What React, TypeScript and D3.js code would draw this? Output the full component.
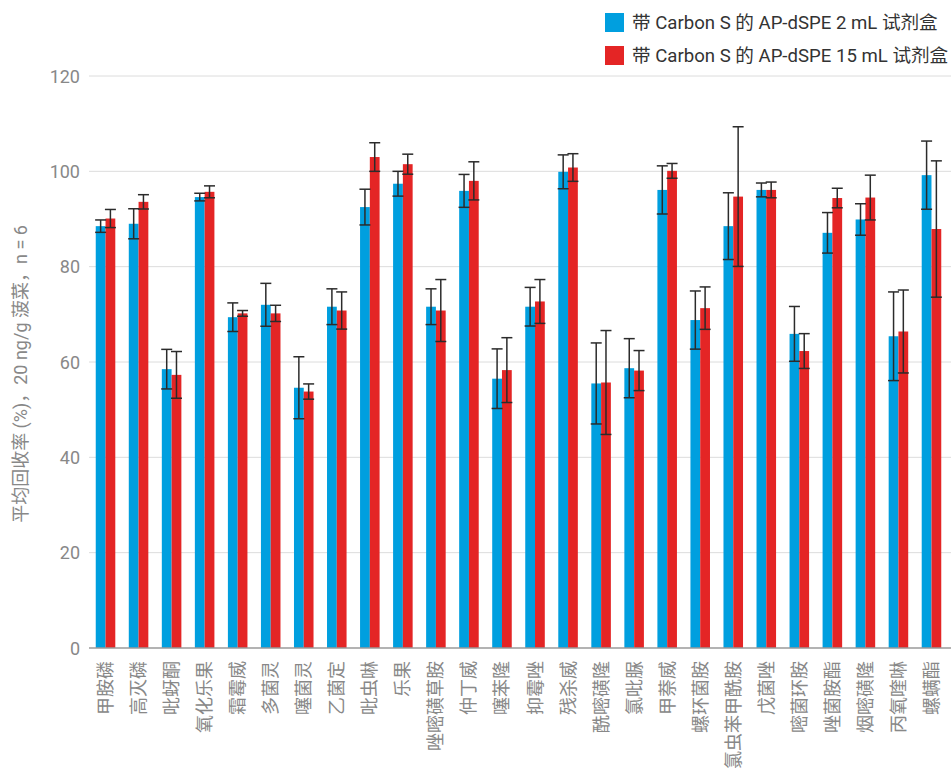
import React, { useEffect, useRef } from 'react';
import * as d3 from 'd3';

const categories = [
  '甲胺磷', '高灭磷', '吡蚜酮', '氧化乐果', '霜霉威', '多菌灵', '噻菌灵', '乙菌定',
  '吡虫啉', '乐果', '唑嘧磺草胺', '仲丁威', '噻苯隆', '抑霉唑', '残杀威', '酰嘧磺隆',
  '氯吡脲', '甲萘威', '螺环菌胺', '氯虫苯甲酰胺', '戊菌唑', '嘧菌环胺', '唑菌胺酯',
  '烟嘧磺隆', '丙氧喹啉', '螺螨酯',
];

const series2mL = [
  88.5, 89.0, 58.5, 94.6, 69.4, 72.0, 54.6, 71.6, 92.5, 97.4, 71.6, 95.9, 56.5,
  71.6, 99.9, 55.5, 58.7, 96.1, 68.8, 88.5, 96.1, 65.9, 87.1, 89.9, 65.4, 99.2,
];
const err2mL = [
  1.3, 3.15, 4.15, 0.8, 3.0, 4.5, 6.5, 3.75, 3.75, 2.6, 3.75, 3.45, 6.25,
  4.05, 3.55, 8.5, 6.2, 5.05, 6.1, 7.0, 1.45, 5.75, 4.25, 3.3, 9.3, 7.15,
];
const series15mL = [
  90.1, 93.6, 57.3, 95.7, 70.2, 70.2, 53.8, 70.8, 103.0, 101.5, 70.8, 98.0, 58.3,
  72.7, 100.8, 55.7, 58.2, 100.1, 71.3, 94.7, 96.1, 62.3, 94.4, 94.5, 66.4, 87.9,
];
const err15mL = [
  1.9, 1.5, 4.9, 1.25, 0.6, 1.7, 1.6, 3.9, 3.0, 2.1, 6.5, 4.0, 6.8,
  4.6, 2.9, 10.9, 4.2, 1.55, 4.45, 14.65, 1.65, 3.65, 2.05, 4.7, 8.7, 14.3,
];

const seriesNames = ['带 Carbon S 的 AP-dSPE 2 mL 试剂盒', '带 Carbon S 的 AP-dSPE 15 mL 试剂盒'];
const seriesColors = ['#009fdf', '#e42525'];
const yTicks = [0, 20, 40, 60, 80, 100, 120];
const yTitle = '平均回收率 (%)，20 ng/g 菠菜，n = 6';

const FONT = "Roboto, 'Noto Sans CJK SC', sans-serif";

const App: React.FC = () => {
  const svgRef = useRef<SVGSVGElement>(null);

  useEffect(() => {
    if (!svgRef.current) return;
    const W = 951;
    const H = 768;
    const svg = d3.select(svgRef.current);
    svg.selectAll('*').remove();
    svg.attr('width', W).attr('height', H).style('font-family', FONT);

    const left = 89;
    const right = 948;

    // group band + sub-band for the two kits
    const x0 = d3.scaleBand().domain(categories).range([left, right]).padding(0);
    const x1 = d3.scaleBand().domain(['a', 'b']).range([0, x0.bandwidth()]).paddingInner(0).paddingOuter(0.69);
    const y = d3.scaleLinear().domain([0, 120]).range([648, 76]);

    // gridlines
    svg.append('g')
      .selectAll('line')
      .data(yTicks.filter(t => t > 0))
      .enter()
      .append('line')
      .attr('x1', left)
      .attr('x2', W)
      .attr('y1', d => y(d))
      .attr('y2', d => y(d))
      .attr('stroke', '#dcdcdc')
      .attr('stroke-width', 1);

    // y tick labels
    svg.append('g')
      .selectAll('text')
      .data(yTicks)
      .enter()
      .append('text')
      .attr('x', 80)
      .attr('y', d => y(d))
      .attr('text-anchor', 'end')
      .attr('dominant-baseline', 'central')
      .style('font-size', '18px')
      .style('fill', '#888')
      .text(d => d);

    // y title
    svg.append('text')
      .attr('transform', `translate(20, 374) rotate(-90)`)
      .attr('text-anchor', 'middle')
      .attr('dominant-baseline', 'central')
      .style('font-size', '18px')
      .style('fill', '#888')
      .text(yTitle);

    const rows = categories.map((c, i) => ({
      cat: c,
      vals: [
        { key: 'a', v: series2mL[i], e: err2mL[i], color: seriesColors[0] },
        { key: 'b', v: series15mL[i], e: err15mL[i], color: seriesColors[1] },
      ],
    }));

    const groups = svg.append('g')
      .selectAll('g')
      .data(rows)
      .enter()
      .append('g')
      .attr('transform', d => `translate(${x0(d.cat)},0)`);

    groups.selectAll('rect')
      .data(d => d.vals)
      .enter()
      .append('rect')
      .attr('x', d => x1(d.key) || 0)
      .attr('width', x1.bandwidth())
      .attr('y', d => y(d.v))
      .attr('height', d => y(0) - y(d.v))
      .attr('fill', d => d.color);

    // error bars
    const capW = 5.5;
    const eb = groups.selectAll('g.err')
      .data(d => d.vals)
      .enter()
      .append('g')
      .classed('err', true)
      .attr('stroke', '#2b2b2b')
      .attr('stroke-width', 1.5);

    const cx = (d: any) => (x1(d.key) || 0) + x1.bandwidth() / 2;
    eb.append('line')
      .attr('x1', cx).attr('x2', cx)
      .attr('y1', d => y(d.v + d.e)).attr('y2', d => y(d.v - d.e));
    eb.append('line')
      .attr('x1', d => cx(d) - capW).attr('x2', d => cx(d) + capW)
      .attr('y1', d => y(d.v + d.e)).attr('y2', d => y(d.v + d.e));
    eb.append('line')
      .attr('x1', d => cx(d) - capW).attr('x2', d => cx(d) + capW)
      .attr('y1', d => y(d.v - d.e)).attr('y2', d => y(d.v - d.e));

    // x axis line
    svg.append('line')
      .attr('x1', left).attr('x2', W)
      .attr('y1', y(0)).attr('y2', y(0))
      .attr('stroke', '#9a9a9a')
      .attr('stroke-width', 1.5);

    // x labels
    svg.append('g')
      .selectAll('text')
      .data(categories)
      .enter()
      .append('text')
      .attr('transform', d => `translate(${(x0(d) || 0) + x0.bandwidth() / 2}, 661) rotate(-90)`)
      .attr('text-anchor', 'end')
      .attr('dominant-baseline', 'central')
      .style('font-size', '18px')
      .style('fill', '#888')
      .text(d => d);

    // legend
    const lg = svg.append('g')
      .selectAll('g')
      .data(seriesNames)
      .enter()
      .append('g')
      .attr('transform', (_, i) => `translate(605, ${13 + i * 33})`);
    lg.append('rect')
      .attr('width', 19)
      .attr('height', 19)
      .attr('fill', (_, i) => seriesColors[i]);
    lg.append('text')
      .attr('x', 27)
      .attr('y', 10)
      .attr('dominant-baseline', 'central')
      .style('font-size', '18.6px')
      .style('fill', '#333')
      .text(d => d);
  }, []);

  return (
    <svg ref={svgRef} style={{ position: 'absolute', left: 0, top: 0 }}></svg>
  );
};

export default App;
